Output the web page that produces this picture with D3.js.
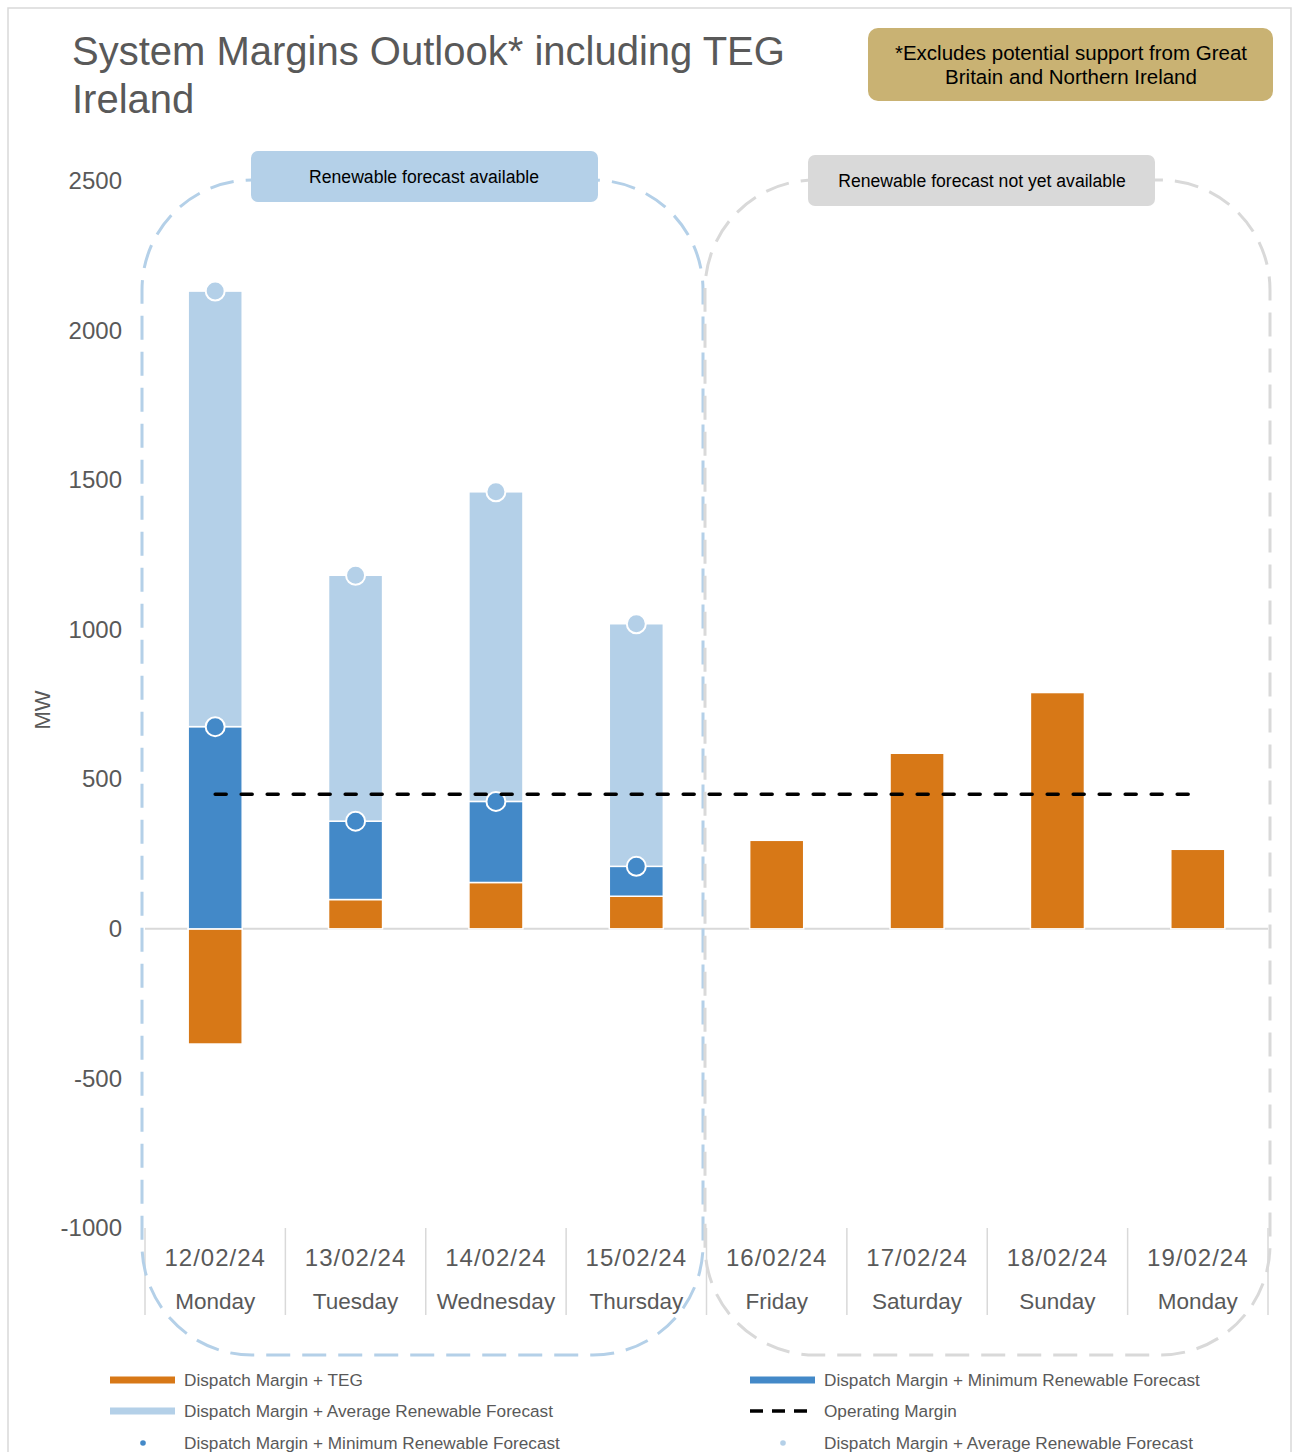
<!DOCTYPE html>
<html>
<head>
<meta charset="utf-8">
<script src="https://cdn.jsdelivr.net/npm/d3@7"></script>
<style>
  body { margin: 0; background: #fff; }
  text { font-family: "Liberation Sans", Arial, sans-serif; }
</style>
</head>
<body>
<div id="plot"></div>
<script>
// chart values
const dates = ["12/02/24", "13/02/24", "14/02/24", "15/02/24", "16/02/24", "17/02/24", "18/02/24", "19/02/24"];
const days = ["Monday", "Tuesday", "Wednesday", "Thursday", "Friday", "Saturday", "Sunday", "Monday"];
const marginTEG = [-385, 98, 155, 109, 296, 587, 790, 266];
const marginMinRenew = [676, 360, 426, 209, null, null, null, null];
const marginAvgRenew = [2132, 1182, 1461, 1020, null, null, null, null];
const operatingMargin = 450;
const yTicks = [-1000, -500, 0, 500, 1000, 1500, 2000, 2500];

const orange = "#D77817", darkBlue = "#4389C8", lightBlue = "#B4D0E8", grey = "#D9D9D9", txt = "#595959";

const width = 1293, height = 1452;
const svg = d3.select("#plot").append("svg")
  .attr("width", width)
  .attr("height", height);

// outer frame
svg.append("rect")
  .attr("x", 8).attr("y", 8)
  .attr("width", 1283).attr("height", 1460)
  .attr("fill", "none").attr("stroke", grey).attr("stroke-width", 1.5);

// title
const title = svg.append("text")
  .attr("x", 72).attr("y", 65)
  .attr("fill", txt).style("font-size", "40px");
title.append("tspan").attr("x", 72).attr("dy", 0).text("System Margins Outlook* including TEG");
title.append("tspan").attr("x", 72).attr("dy", 48).text("Ireland");

// badge
svg.append("rect")
  .attr("x", 868).attr("y", 28).attr("width", 405).attr("height", 73)
  .attr("rx", 10).attr("fill", "#C9B273");
const badge = svg.append("text")
  .attr("text-anchor", "middle").attr("fill", "#000").style("font-size", "20.5px");
badge.append("tspan").attr("x", 1071).attr("y", 60).text("*Excludes potential support from Great");
badge.append("tspan").attr("x", 1071).attr("y", 84).text("Britain and Northern Ireland");

const x = d3.scaleBand()
  .domain(dates)
  .range([145, 1268])
  .paddingInner(0.615)
  .paddingOuter(0.3075);

const slot = d3.scaleBand().domain(dates).range([145, 1268]).padding(0);

const y = d3.scaleLinear()
  .domain([-1000, 2500])
  .range([1228, 181]);

// y axis
const yAxis = svg.append("g")
  .attr("transform", "translate(122,0)")
  .call(d3.axisLeft(y).tickValues(yTicks).tickSize(0).tickPadding(0).tickFormat(d => String(d)));
yAxis.select(".domain").remove();
yAxis.selectAll("text")
  .attr("fill", txt)
  .style("font-size", "24px")
  .style("font-family", "'Liberation Sans', Arial, sans-serif");

svg.append("text")
  .attr("transform", "translate(50,710) rotate(-90)")
  .attr("text-anchor", "middle")
  .attr("fill", txt).style("font-size", "22px")
  .text("MW");

// zero line
svg.append("line")
  .attr("x1", 145).attr("x2", 1268)
  .attr("y1", y(0)).attr("y2", y(0))
  .attr("stroke", grey).attr("stroke-width", 2);

// category axis at bottom
const catAxis = svg.append("g");
const bounds = dates.map(d => slot(d)).concat([slot(dates[dates.length - 1]) + slot.bandwidth()]);
catAxis.selectAll("line").data(bounds).enter().append("line")
  .attr("x1", d => d).attr("x2", d => d)
  .attr("y1", y(-1000)).attr("y2", 1315)
  .attr("stroke", grey).attr("stroke-width", 1.5);
catAxis.selectAll(".date").data(dates).enter().append("text")
  .attr("class", "date")
  .attr("x", d => x(d) + x.bandwidth() / 2)
  .attr("y", 1266)
  .attr("text-anchor", "middle").attr("fill", txt).style("font-size", "24px")
  .style("letter-spacing", "1px")
  .text(d => d);
catAxis.selectAll(".day").data(dates).enter().append("text")
  .attr("class", "day")
  .attr("x", d => x(d) + x.bandwidth() / 2)
  .attr("y", 1309)
  .attr("text-anchor", "middle").attr("fill", txt).style("font-size", "22.5px")
  .text((d, i) => days[i]);

// bars
const rows = dates.map((d, i) => ({ date: d, teg: marginTEG[i], min: marginMinRenew[i], avg: marginAvgRenew[i] }));
const bars = svg.append("g");

bars.selectAll(".teg").data(rows).enter().append("rect")
  .attr("x", d => x(d.date)).attr("width", x.bandwidth())
  .attr("y", d => y(Math.max(0, d.teg)))
  .attr("height", d => Math.abs(y(0) - y(d.teg)))
  .attr("fill", orange).attr("stroke", "#fff").attr("stroke-width", 1.5);

const withRenew = rows.filter(d => d.min != null);
bars.selectAll(".minb").data(withRenew).enter().append("rect")
  .attr("x", d => x(d.date)).attr("width", x.bandwidth())
  .attr("y", d => y(d.min))
  .attr("height", d => y(Math.max(0, d.teg)) - y(d.min))
  .attr("fill", darkBlue).attr("stroke", "#fff").attr("stroke-width", 1.5);

bars.selectAll(".avgb").data(withRenew).enter().append("rect")
  .attr("x", d => x(d.date)).attr("width", x.bandwidth())
  .attr("y", d => y(d.avg))
  .attr("height", d => y(d.min) - y(d.avg))
  .attr("fill", lightBlue).attr("stroke", "#fff").attr("stroke-width", 1.5);

// operating margin
svg.append("line")
  .attr("x1", x(dates[0]) + x.bandwidth() / 2)
  .attr("x2", x(dates[dates.length - 1]) + x.bandwidth() / 2)
  .attr("y1", y(operatingMargin)).attr("y2", y(operatingMargin))
  .attr("stroke", "#000").attr("stroke-width", 3.5)
  .attr("stroke-linecap", "round")
  .attr("stroke-dasharray", "11,15");

// markers
bars.selectAll(".mindot").data(withRenew).enter().append("circle")
  .attr("cx", d => x(d.date) + x.bandwidth() / 2).attr("cy", d => y(d.min))
  .attr("r", 9.5).attr("fill", darkBlue).attr("stroke", "#fff").attr("stroke-width", 2);
bars.selectAll(".avgdot").data(withRenew).enter().append("circle")
  .attr("cx", d => x(d.date) + x.bandwidth() / 2).attr("cy", d => y(d.avg))
  .attr("r", 9.5).attr("fill", lightBlue).attr("stroke", "#fff").attr("stroke-width", 2);

// dashed region outlines
svg.append("rect")
  .attr("x", 142).attr("y", 180).attr("width", 561).attr("height", 1175)
  .attr("rx", 110).attr("ry", 110)
  .attr("fill", "none").attr("stroke", lightBlue).attr("stroke-width", 3)
  .attr("stroke-dasharray", "24,12");
svg.append("rect")
  .attr("x", 705).attr("y", 180).attr("width", 565).attr("height", 1175)
  .attr("rx", 110).attr("ry", 110)
  .attr("fill", "none").attr("stroke", grey).attr("stroke-width", 3)
  .attr("stroke-dasharray", "24,12");

// region labels
svg.append("rect")
  .attr("x", 251).attr("y", 151).attr("width", 347).attr("height", 51)
  .attr("rx", 7).attr("fill", lightBlue);
svg.append("text")
  .attr("x", 424).attr("y", 183).attr("text-anchor", "middle")
  .attr("fill", "#000").style("font-size", "17.6px")
  .text("Renewable forecast available");
svg.append("rect")
  .attr("x", 808).attr("y", 155).attr("width", 347).attr("height", 51)
  .attr("rx", 7).attr("fill", grey);
svg.append("text")
  .attr("x", 982).attr("y", 187).attr("text-anchor", "middle")
  .attr("fill", "#000").style("font-size", "17.6px")
  .text("Renewable forecast not yet available");

// legend
const legend = svg.append("g");
const legendItems = [
  { label: "Dispatch Margin + TEG", kind: "bar", color: orange, lx: 110, ly: 1380 },
  { label: "Dispatch Margin + Minimum Renewable Forecast", kind: "bar", color: darkBlue, lx: 750, ly: 1380 },
  { label: "Dispatch Margin + Average Renewable Forecast", kind: "bar", color: lightBlue, lx: 110, ly: 1411 },
  { label: "Operating Margin", kind: "dash", color: "#000", lx: 750, ly: 1411 },
  { label: "Dispatch Margin + Minimum Renewable Forecast", kind: "dot", color: darkBlue, lx: 110, ly: 1443 },
  { label: "Dispatch Margin + Average Renewable Forecast", kind: "dot", color: lightBlue, lx: 750, ly: 1443 }
];
legendItems.forEach(it => {
  if (it.kind === "bar") {
    legend.append("line")
      .attr("x1", it.lx).attr("x2", it.lx + 65)
      .attr("y1", it.ly).attr("y2", it.ly)
      .attr("stroke", it.color).attr("stroke-width", 7);
  } else if (it.kind === "dash") {
    legend.append("line")
      .attr("x1", it.lx).attr("x2", it.lx + 66)
      .attr("y1", it.ly).attr("y2", it.ly)
      .attr("stroke", it.color).attr("stroke-width", 3.5)
      .attr("stroke-dasharray", "13,9");
  } else {
    legend.append("circle")
      .attr("cx", it.lx + 33).attr("cy", it.ly)
      .attr("r", 2.8).attr("fill", it.color);
  }
  legend.append("text")
    .attr("x", it.lx + 74).attr("y", it.ly + 6)
    .attr("fill", txt).style("font-size", "17.2px")
    .text(it.label);
});
</script>
</body>
</html>
